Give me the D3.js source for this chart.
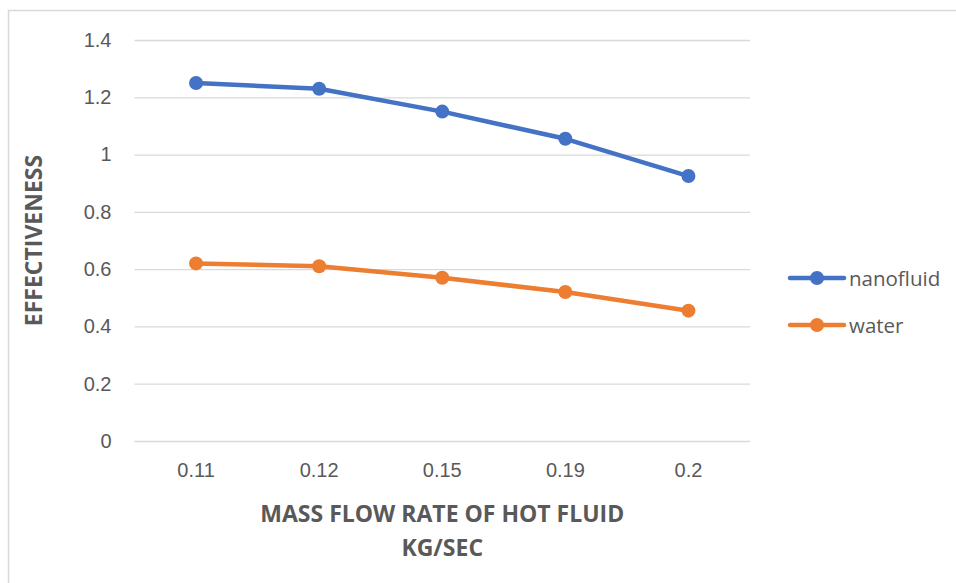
<!DOCTYPE html>
<html>
<head>
<meta charset="utf-8">
<script src="https://cdn.jsdelivr.net/npm/d3@7"></script>
<style>
  body { margin: 0; background: #fff; }
  svg { display: block; font-family: "Open Sans", sans-serif; }
</style>
</head>
<body>
<div id="chart"></div>
<script>
// data
var categories = ['0.11', '0.12', '0.15', '0.19', '0.2'];
var nanofluid = [1.25, 1.23, 1.15, 1.055, 0.925];
var water = [0.62, 0.61, 0.57, 0.52, 0.455];
var yTicks = [0, 0.2, 0.4, 0.6, 0.8, 1, 1.2, 1.4];
var seriesNames = ['nanofluid', 'water'];
var seriesColors = ['#4472C4', '#ED7D31'];

var W = 956, H = 583;
var plot = {left: 134.5, right: 750, top: 40, bottom: 441};
var textColor = '#595959';

var svg = d3.select('#chart').append('svg')
    .attr('width', W)
    .attr('height', H);

// chart border (runs off the right and bottom edge)
svg.append('rect')
    .attr('x', 8.5).attr('y', 10.5)
    .attr('width', W).attr('height', H)
    .attr('fill', 'none')
    .attr('stroke', '#d9d9d9')
    .attr('stroke-width', 1.5);

var x = d3.scaleBand()
    .domain(categories)
    .range([plot.left, plot.right]);

var y = d3.scaleLinear()
    .domain([0, 1.4])
    .range([plot.bottom, plot.top]);

// gridlines + y labels
var yAxis = svg.append('g')
    .attr('transform', 'translate(' + plot.left + ',0)')
    .call(d3.axisLeft(y)
        .tickValues(yTicks)
        .tickSize(-(plot.right - plot.left))
        .tickPadding(23)
        .tickFormat(d3.format('~g')));
yAxis.select('.domain').remove();
yAxis.selectAll('.tick line')
    .attr('stroke', '#d9d9d9')
    .attr('stroke-width', 1.3);
yAxis.selectAll('.tick text')
    .attr('fill', textColor)
    .attr('font-size', '20px');

// x labels
var xAxis = svg.append('g')
    .attr('transform', 'translate(0,' + plot.bottom + ')')
    .call(d3.axisBottom(x).tickSize(0).tickPadding(22));
xAxis.select('.domain').remove();
xAxis.selectAll('.tick text')
    .attr('fill', textColor)
    .attr('font-size', '20px');

// axis titles
svg.append('text')
    .attr('transform', 'translate(33,' + ((plot.top + plot.bottom) / 2) + ') rotate(-90)')
    .attr('text-anchor', 'middle')
    .attr('dominant-baseline', 'central')
    .attr('font-weight', 'bold')
    .attr('font-size', '23px')
    .attr('fill', textColor)
    .text('EFFECTIVENESS');

svg.append('text')
    .attr('x', (plot.left + plot.right) / 2)
    .attr('y', 513)
    .attr('text-anchor', 'middle')
    .attr('dominant-baseline', 'central')
    .attr('font-weight', 'bold')
    .attr('font-size', '23px')
    .attr('fill', textColor)
    .text('MASS FLOW RATE OF HOT FLUID');

svg.append('text')
    .attr('x', (plot.left + plot.right) / 2)
    .attr('y', 547)
    .attr('text-anchor', 'middle')
    .attr('dominant-baseline', 'central')
    .attr('font-weight', 'bold')
    .attr('font-size', '23px')
    .attr('fill', textColor)
    .text('KG/SEC');

// series
var series = [nanofluid, water];
var line = d3.line()
    .x(function (d, i) { return x(categories[i]) + x.bandwidth() / 2; })
    .y(function (d) { return y(d); });

series.forEach(function (vals, s) {
    svg.append('path')
        .datum(vals)
        .attr('d', line)
        .attr('fill', 'none')
        .attr('stroke', seriesColors[s])
        .attr('stroke-width', 4.5)
        .attr('stroke-linejoin', 'round')
        .attr('stroke-linecap', 'round');
    svg.selectAll('.pt' + s)
        .data(vals)
        .enter().append('circle')
        .attr('cx', function (d, i) { return x(categories[i]) + x.bandwidth() / 2; })
        .attr('cy', function (d) { return y(d); })
        .attr('r', 7)
        .attr('fill', seriesColors[s]);
});

// legend
var legend = svg.append('g');
seriesNames.forEach(function (name, i) {
    var ly = 278 + i * 47;
    legend.append('line')
        .attr('x1', 790).attr('x2', 844)
        .attr('y1', ly).attr('y2', ly)
        .attr('stroke', seriesColors[i])
        .attr('stroke-width', 4.5)
        .attr('stroke-linecap', 'round');
    legend.append('circle')
        .attr('cx', 817).attr('cy', ly)
        .attr('r', 7)
        .attr('fill', seriesColors[i]);
    legend.append('text')
        .attr('x', 849).attr('y', ly)
        .attr('dominant-baseline', 'central')
        .attr('font-size', '20.5px')
        .attr('fill', textColor)
        .text(name);
});
</script>
</body>
</html>
